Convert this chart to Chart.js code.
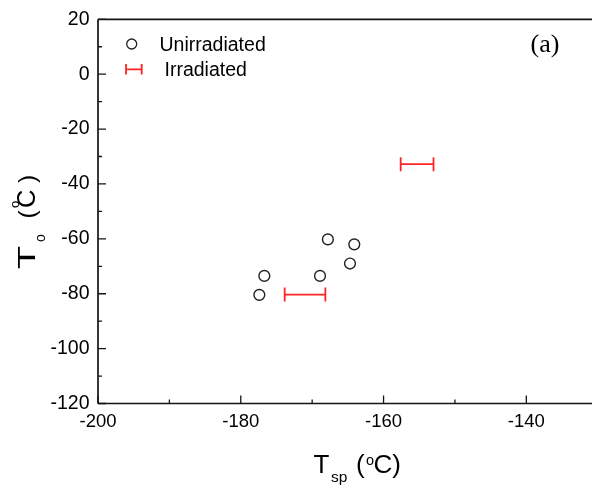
<!DOCTYPE html>
<html>
<head>
<meta charset="utf-8">
<script src="https://cdn.jsdelivr.net/npm/chart.js@4.4.1/dist/chart.umd.min.js"></script>
<style>
  html, body { margin: 0; padding: 0; background: #ffffff; overflow: hidden; }
  #wrap { width: 592px; height: 490px; }
</style>
</head>
<body>
<div id="wrap"><canvas id="c" width="592" height="490"></canvas></div>
<script>
// ---- data ----
const unirradiatedX = [-167.8, -164.1, -164.7, -168.9, -176.7, -177.4];
const unirradiatedY = [-60.2, -62.0, -69.0, -73.5, -73.5, -80.4];

const irradiatedX    = [-155.3, -171.0];
const irradiatedXErr = [2.3, 2.85];
const irradiatedY    = [-32.8, -80.3];

const xTickValues = [-200, -180, -160, -140];
const yTickValues = [20, 0, -20, -40, -60, -80, -100, -120];

const seriesNames = ['Unirradiated', 'Irradiated'];
const panelLabel = '(a)';

// ---- build datasets ----
const circlePoints = unirradiatedX.map((x, i) => ({ x: x, y: unirradiatedY[i] }));
const errSegments = [];
irradiatedX.forEach((c, i) => {
  errSegments.push({ x: c - irradiatedXErr[i], y: irradiatedY[i] });
  errSegments.push({ x: c + irradiatedXErr[i], y: irradiatedY[i] });
  errSegments.push({ x: c + irradiatedXErr[i], y: null });
});

const AXIS_COLOR = '#141414';
const RED = '#ff2424';
const SANS = '"Liberation Sans", Arial, Helvetica, sans-serif';
const SERIF = '"Liberation Serif", "Times New Roman", serif';

function drawParts(ctx, parts) {
  parts.forEach(p => {
    ctx.save();
    ctx.font = p.size + 'px ' + SANS;
    ctx.translate(p.u, p.dy || 0);
    if (p.sx) ctx.scale(p.sx, 1);
    ctx.fillText(p.t, 0, 0);
    ctx.restore();
  });
}

const decorPlugin = {
  id: 'decor',
  afterDraw(chart) {
    const ctx = chart.ctx;
    const { left, top, right, bottom } = chart.chartArea;
    const xs = chart.scales.x, ys = chart.scales.y;
    ctx.save();
    // axes lines
    ctx.strokeStyle = AXIS_COLOR;
    ctx.lineWidth = 1.7;
    ctx.beginPath();
    ctx.moveTo(left, top); ctx.lineTo(right, top);
    ctx.moveTo(left, top); ctx.lineTo(left, bottom);
    ctx.moveTo(left, bottom); ctx.lineTo(right, bottom);
    ctx.stroke();
    // inward ticks
    ctx.lineWidth = 1.3;
    ctx.beginPath();
    for (let v = -120; v <= 20; v += 10) {
      const py = ys.getPixelForValue(v);
      const len = (v % 20 === 0) ? 8 : 4;
      ctx.moveTo(left, py); ctx.lineTo(left + len, py);
    }
    for (let v = -200; v <= xs.max; v += 10) {
      const px = xs.getPixelForValue(v);
      const len = (v % 20 === 0) ? 8 : 4;
      ctx.moveTo(px, bottom); ctx.lineTo(px, bottom - len);
    }
    ctx.stroke();

    // legend
    ctx.fillStyle = '#000';
    ctx.strokeStyle = '#222';
    ctx.lineWidth = 1.3;
    ctx.beginPath();
    ctx.arc(131.7, 44, 5, 0, Math.PI * 2);
    ctx.stroke();
    ctx.font = '19.5px ' + SANS;
    ctx.textBaseline = 'alphabetic';
    ctx.textAlign = 'left';
    ctx.fillText(seriesNames[0], 159.5, 50.5);
    ctx.strokeStyle = RED;
    ctx.lineWidth = 1.8;
    ctx.beginPath();
    ctx.moveTo(126, 69.3); ctx.lineTo(141.7, 69.3);
    ctx.moveTo(126, 64); ctx.lineTo(126, 74.6);
    ctx.moveTo(141.7, 64); ctx.lineTo(141.7, 74.6);
    ctx.stroke();
    ctx.fillText(seriesNames[1], 164.5, 75.5);

    // panel label
    ctx.font = '26px ' + SERIF;
    ctx.fillText(panelLabel, 530.5, 52);

    // x axis title: T_sp (°C)
    ctx.save();
    ctx.translate(313.5, 473.3);
    drawParts(ctx, [
      { t: 'T', size: 26, u: 0 },
      { t: 'sp', size: 15.5, u: 17.5, dy: 8.4 },
      { t: '(', size: 26, u: 42.5 },
      { t: 'o', size: 14.5, u: 52.5, dy: -8.8 },
      { t: 'C)', size: 26, u: 60 }
    ]);
    ctx.restore();

    // y axis title: T_o (°C) rotated
    ctx.save();
    ctx.translate(35, 269);
    ctx.rotate(-Math.PI / 2);
    drawParts(ctx, [
      { t: 'T', size: 24.5, u: 0, sx: 1.55 },
      { t: 'o', size: 14, u: 27, dy: 10 },
      { t: '(', size: 24.5, u: 50.5 },
      { t: 'o', size: 13, u: 61, dy: -16.5 },
      { t: 'C', size: 25.5, u: 61 },
      { t: ')', size: 24.5, u: 86 }
    ]);
    ctx.restore();

    ctx.restore();
  }
};

new Chart(document.getElementById('c'), {
  type: 'scatter',
  data: {
    datasets: [
      {
        label: seriesNames[0],
        data: circlePoints,
        pointStyle: 'circle',
        pointRadius: 5.4,
        pointBorderWidth: 1.4,
        borderColor: '#222',
        backgroundColor: 'rgba(0,0,0,0)',
        showLine: false
      },
      {
        label: seriesNames[1],
        data: errSegments,
        showLine: true,
        spanGaps: false,
        borderColor: RED,
        borderWidth: 1.8,
        pointStyle: 'line',
        rotation: 90,
        pointRadius: 7,
        pointBorderWidth: 1.8,
        pointBorderColor: RED,
        backgroundColor: RED
      }
    ]
  },
  options: {
    responsive: false,
    animation: false,
    events: [],
    layout: { autoPadding: false, padding: { top: 19.3, right: 0, left: 0, bottom: 0 } },
    plugins: { legend: { display: false }, tooltip: { enabled: false } },
    scales: {
      x: {
        type: 'linear',
        min: -200,
        max: -130.8,
        grid: { display: false, drawTicks: false },
        border: { display: false },
        afterFit(scale) {
          scale.height = 86.5;
          scale.paddingLeft = 0; scale.paddingRight = 0;
        },
        afterBuildTicks(scale) { scale.ticks = xTickValues.map(v => ({ value: v })); },
        ticks: {
          autoSkip: false,
          maxRotation: 0,
          padding: 7,
          color: '#000',
          font: { family: SANS, size: 18.5 },
          callback: v => String(v)
        }
      },
      y: {
        type: 'linear',
        min: -120,
        max: 20,
        grid: { display: false, drawTicks: false },
        border: { display: false },
        afterFit(scale) {
          scale.width = 98;
          scale.paddingTop = 0; scale.paddingBottom = 0;
        },
        afterBuildTicks(scale) { scale.ticks = yTickValues.map(v => ({ value: v })); },
        ticks: {
          autoSkip: false,
          padding: 8.5,
          color: '#000',
          font: { family: SANS, size: 19.5 },
          callback: v => String(v)
        }
      }
    }
  },
  plugins: [decorPlugin]
});
</script>
</body>
</html>
